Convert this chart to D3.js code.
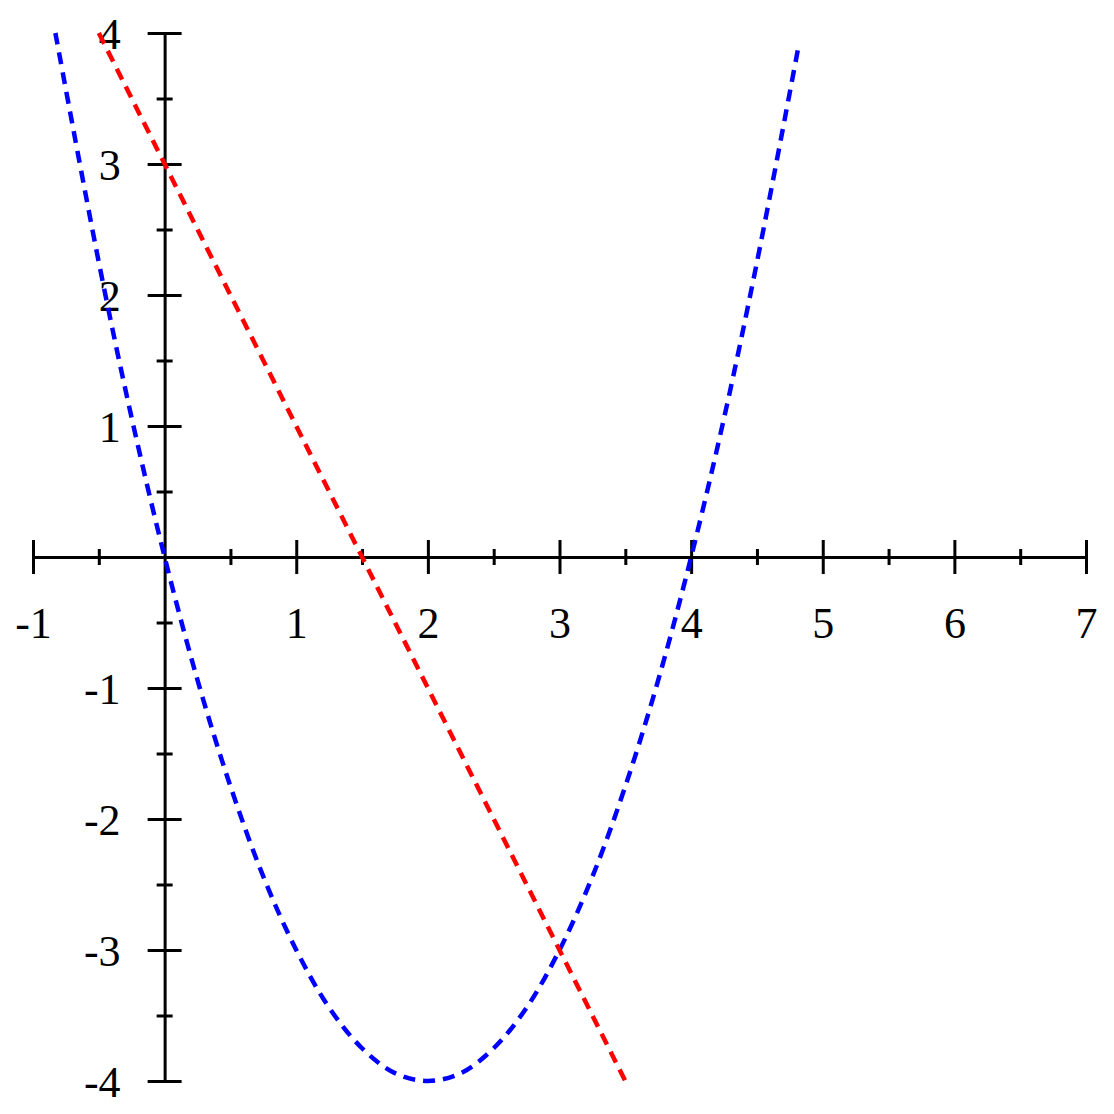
<!DOCTYPE html>
<html>
<head>
<meta charset="utf-8">
<script src="https://cdn.jsdelivr.net/npm/d3@7"></script>
<style>
  body { margin: 0; background: #fff; }
</style>
</head>
<body>
<svg width="1114" height="1114"></svg>
<script>
// values
var parabolaX = [-0.83, -0.5, -0.25, 0, 0.25, 0.5, 0.75, 1, 1.25, 1.5, 1.75, 2, 2.25, 2.5, 2.75, 3, 3.25, 3.5, 3.75, 4, 4.25, 4.5, 4.82];
var parabolaY = [4, 2.25, 1.06, 0, -0.94, -1.75, -2.44, -3, -3.44, -3.75, -3.94, -4, -3.94, -3.75, -3.44, -3, -2.44, -1.75, -0.94, 0, 1.06, 2.25, 3.92];
var lineX = [-0.5, 3.5];
var lineY = [4, -4];

var xMajor = [-1, 1, 2, 3, 4, 5, 6, 7];
var xMinor = [-0.5, 0.5, 1.5, 2.5, 3.5, 4.5, 5.5, 6.5];
var yMajor = [-4, -3, -2, -1, 1, 2, 3, 4];
var yMinor = [-3.5, -2.5, -1.5, -0.5, 0.5, 1.5, 2.5, 3.5];

var svg = d3.select("svg");

var x = d3.scaleLinear().domain([-1, 7]).range([33, 1086]);
var y = d3.scaleLinear().domain([-4, 4]).range([1081, 33]);

var label = function(d) { return String(d); };  // plain hyphen minus

// x axis
var gx = svg.append("g").attr("transform", "translate(0," + y(0) + ")");
gx.call(d3.axisBottom(x).tickValues(xMajor).tickSize(0).tickSizeOuter(0).tickFormat(label));
gx.selectAll(".tick line").attr("y1", -17).attr("y2", 17);
gx.selectAll(".tick text").attr("y", 66).attr("dy", "0.35em");
gx.append("g").call(d3.axisBottom(x).tickValues(xMinor).tickSize(0).tickFormat(""))
  .selectAll(".tick line").attr("y1", -8).attr("y2", 8);
gx.selectAll("g").select(".domain").remove();

// y axis
var gy = svg.append("g").attr("transform", "translate(" + x(0) + ",0)");
gy.call(d3.axisLeft(y).tickValues(yMajor).tickSize(0).tickSizeOuter(0).tickFormat(label));
gy.selectAll(".tick line").attr("x1", -17).attr("x2", 17);
gy.selectAll(".tick text").attr("x", -44).attr("dy", "0.35em");
gy.append("g").call(d3.axisLeft(y).tickValues(yMinor).tickSize(0).tickFormat(""))
  .selectAll(".tick line").attr("x1", -8).attr("x2", 8);
gy.selectAll("g").select(".domain").remove();

svg.selectAll(".domain, .tick line").attr("stroke", "#000").attr("stroke-width", 3);
svg.selectAll("g").attr("font-family", "Liberation Serif, Times New Roman, Times, serif").attr("font-size", 44);
svg.selectAll(".tick text").attr("fill", "#000");

var lineGen = d3.line()
  .x(function(d) { return x(d[0]); })
  .y(function(d) { return y(d[1]); });

svg.append("path")
  .datum(d3.zip(parabolaX, parabolaY))
  .attr("d", lineGen.curve(d3.curveCatmullRom))
  .attr("fill", "none")
  .attr("stroke", "#0000ff")
  .attr("stroke-width", 4.5)
  .attr("stroke-dasharray", "12,8");

svg.append("path")
  .datum(d3.zip(lineX, lineY))
  .attr("d", lineGen.curve(d3.curveLinear))
  .attr("fill", "none")
  .attr("stroke", "#ff0000")
  .attr("stroke-width", 4.5)
  .attr("stroke-dasharray", "12,8");
</script>
</body>
</html>
